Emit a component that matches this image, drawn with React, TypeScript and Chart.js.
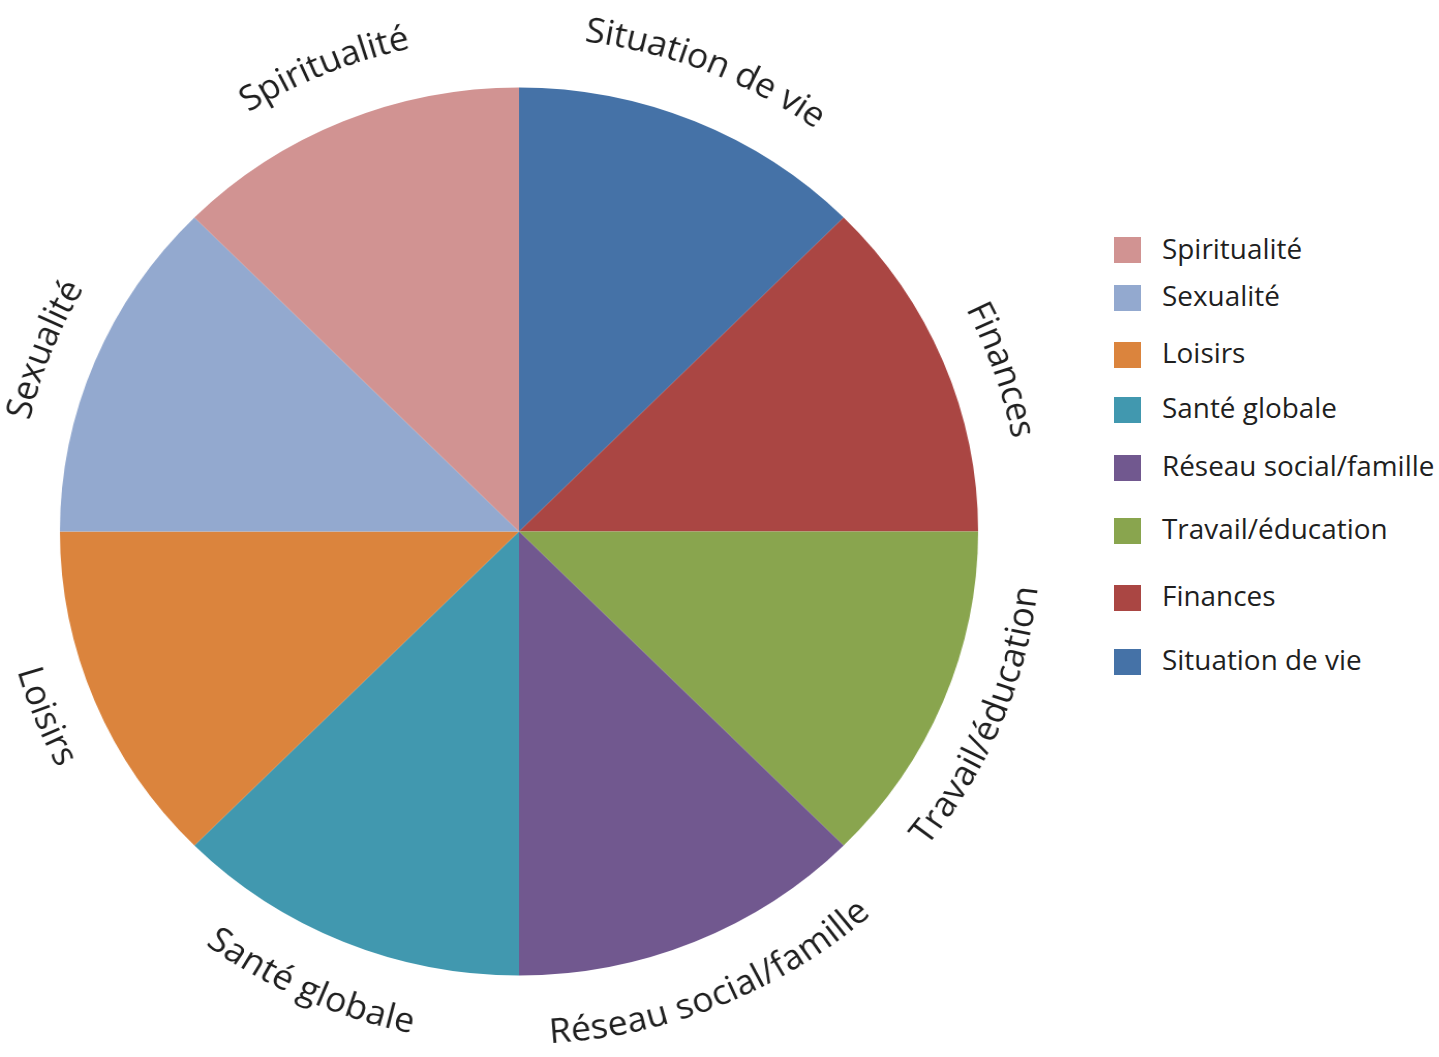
import React, { useEffect, useRef } from "react";
import { Chart, registerables } from "chart.js";

Chart.register(...registerables);

// ---- Data ----
const CATEGORIES = [
  "Situation de vie",
  "Finances",
  "Travail/éducation",
  "Réseau social/famille",
  "Santé globale",
  "Loisirs",
  "Sexualité",
  "Spiritualité",
];
const VALUES = [1, 1, 1, 1, 1, 1, 1, 1];
const COLORS = [
  "#4572A7",
  "#AA4643",
  "#89A54E",
  "#71588F",
  "#4198AF",
  "#DB843D",
  "#93A9CF",
  "#D19392",
];

// ---- Layout / style constants ----
const LABEL_FONT_SIZE = 34.5;
const LABEL_GAP_SIDE = 50; // pie edge to middle of x-height, at left/right
const LABEL_GAP_TB = 61; // pie edge to middle of x-height, at top/bottom
const LABEL_SHIFT_DEG = [-1.1, 3.4, 0, 0, 1.5, 0.5, -0.9, 0.4];
const TEXT_COLOR = "#1f1f1f";
const FONT_FAMILY = "'Open Sans', 'Noto Sans', sans-serif";
const STRETCH_X = 1.034;
const LEGEND_CENTERS = [250, 297.5, 354.5, 409.5, 467.5, 530.5, 597.5, 661.5];

const arcLabels = {
  id: "arcLabels",
  afterDatasetsDraw(chart: any) {
    const ctx = chart.ctx as CanvasRenderingContext2D;
    const meta = chart.getDatasetMeta(0);
    const labels = chart.data.labels as string[];
    ctx.save();
    ctx.font = `${LABEL_FONT_SIZE}px ${FONT_FAMILY}`;
    ctx.fillStyle = TEXT_COLOR;
    ctx.textAlign = "center";
    ctx.textBaseline = "alphabetic";
    meta.data.forEach((arc: any, i: number) => {
      const { x, y, startAngle, endAngle, outerRadius } = arc.getProps(
        ["x", "y", "startAngle", "endAngle", "outerRadius"],
        true
      );
      const mid = (startAngle + endAngle) / 2 + ((LABEL_SHIFT_DEG[i] || 0) * Math.PI) / 180;
      const text = String(labels[i]);
      const s2 = Math.sin(mid) ** 2;
      const rMid = outerRadius + LABEL_GAP_SIDE + (LABEL_GAP_TB - LABEL_GAP_SIDE) * s2;
      const xh = LABEL_FONT_SIZE * 0.535;
      const bottom = Math.sin(mid) > 0;
      const rBase = bottom ? rMid + xh / 2 : rMid - xh / 2;
      const chars = Array.from(text);
      const total = ctx.measureText(text).width;
      const span = total / rMid;
      const start = bottom ? mid + span / 2 : mid - span / 2;
      let prefix = "";
      chars.forEach((c) => {
        const w0 = ctx.measureText(prefix).width;
        const w1 = ctx.measureText(prefix + c).width;
        const centerLen = (w0 + w1) / 2;
        const a = bottom ? start - centerLen / rMid : start + centerLen / rMid;
        ctx.save();
        ctx.translate(x + rBase * Math.cos(a), y + rBase * Math.sin(a));
        ctx.rotate(bottom ? a - Math.PI / 2 : a + Math.PI / 2);
        ctx.fillText(c, 0, 0);
        ctx.restore();
        prefix += c;
      });
    });
    ctx.restore();
  },
};

function PieChart() {
  const canvasRef = useRef<HTMLCanvasElement | null>(null);
  useEffect(() => {
    if (!canvasRef.current) return;
    const chart = new Chart(canvasRef.current, {
      type: "pie",
      data: {
        labels: CATEGORIES,
        datasets: [
          {
            data: VALUES,
            backgroundColor: COLORS,
            borderWidth: 0,
            hoverOffset: 0,
          },
        ],
      },
      options: {
        animation: false,
        responsive: true,
        maintainAspectRatio: false,
        layout: { padding: { left: 75, right: 77, top: 87.5, bottom: 81.5 } },
        plugins: {
          legend: { display: false },
          tooltip: { enabled: false },
        },
      },
      plugins: [arcLabels],
    });
    return () => chart.destroy();
  }, []);
  return (
    <div
      style={{
        position: "absolute",
        left: 0,
        top: 0,
        width: 1040,
        height: 1057,
        transform: `scaleX(${STRETCH_X})`,
        transformOrigin: "519px 531.5px",
      }}
    >
      <canvas ref={canvasRef} />
    </div>
  );
}

function Legend() {
  const items = CATEGORIES.map((c, i) => ({ label: c, color: COLORS[i] })).reverse();
  return (
    <>
      {items.map((it, i) => (
        <div
          key={it.label}
          style={{
            position: "absolute",
            left: 1114,
            top: LEGEND_CENTERS[i] - 20,
            height: 40,
            display: "flex",
            alignItems: "center",
            whiteSpace: "nowrap",
          }}
        >
          <div style={{ width: 27, height: 26, background: it.color, marginRight: 21 }} />
          <span
            style={{
              fontFamily: FONT_FAMILY,
              fontSize: 27.9,
              color: TEXT_COLOR,
              lineHeight: "40px",
              marginTop: -5,
            }}
          >
            {it.label}
          </span>
        </div>
      ))}
    </>
  );
}

export default function App() {
  return (
    <div
      style={{
        position: "absolute",
        left: 0,
        top: 0,
        width: 1439,
        height: 1057,
        background: "#fff",
        overflow: "hidden",
      }}
    >
      <PieChart />
      <Legend />
    </div>
  );
}
